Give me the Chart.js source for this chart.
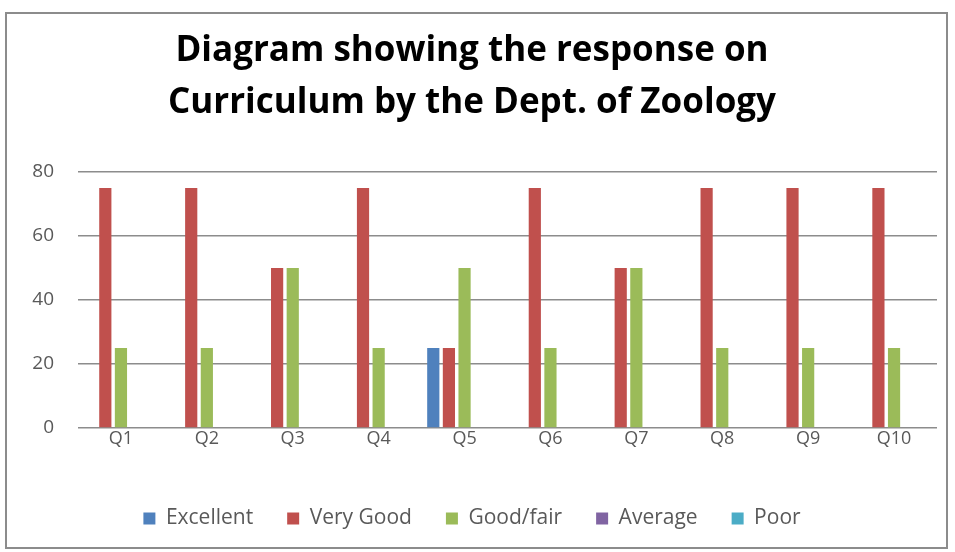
<!DOCTYPE html>
<html>
<head>
<meta charset="utf-8">
<script src="https://cdn.jsdelivr.net/npm/chart.js@4/dist/chart.umd.min.js"></script>
<style>
  body { margin: 0; background: #fff; }
  #frame {
    position: absolute; left: 5px; top: 12px;
    width: 939px; height: 533px;
    border: 2px solid #8c8c8c;
  }
</style>
</head>
<body>
<div id="frame"><canvas id="chart" width="939" height="533"></canvas></div>
<script>
/* =================================================
  Data
==================================================== */

const questions = ["Q1", "Q2", "Q3", "Q4", "Q5", "Q6", "Q7", "Q8", "Q9", "Q10"];
const excellent = [0, 0, 0, 0, 25, 0, 0, 0, 0, 0];
const veryGood  = [75, 75, 50, 75, 25, 75, 50, 75, 75, 75];
const goodFair  = [25, 25, 50, 25, 50, 25, 50, 25, 25, 25];
const average   = [0, 0, 0, 0, 0, 0, 0, 0, 0, 0];
const poor      = [0, 0, 0, 0, 0, 0, 0, 0, 0, 0];
const yTicks    = [0, 20, 40, 60, 80];

/* =================================================
  Chart
==================================================== */

const font = "'Open Sans', 'Noto Sans', sans-serif";
const ctx = document.getElementById('chart');

const makeSet = (label, data, color) => ({
  label: label,
  data: data,
  backgroundColor: color,
  borderWidth: 0,
  categoryPercentage: 0.91,
  barPercentage: 0.78
});

new Chart(ctx, {
  type: 'bar',
  data: {
    labels: questions,
    datasets: [
      makeSet('Excellent', excellent, '#4F81BD'),
      makeSet('Very Good', veryGood, '#C0504D'),
      makeSet('Good/fair', goodFair, '#9BBB59'),
      makeSet('Average', average, '#8064A2'),
      makeSet('Poor', poor, '#4BACC6')
    ]
  },
  options: {
    responsive: false,
    animation: false,
    layout: { padding: { left: 0, right: 9, top: 0, bottom: 8 } },
    scales: {
      x: {
        grid: { display: false },
        border: { display: false },
        ticks: { color: '#595959', font: { family: font, size: 18 }, padding: -8 },
        afterFit: scale => { scale.height = 46; }
      },
      y: {
        min: 0,
        max: 80,
        afterBuildTicks: scale => { scale.ticks = yTicks.map(v => ({ value: v })); },
        grid: { color: '#8c8c8c', lineWidth: 1.5, drawTicks: false },
        border: { display: false },
        ticks: { color: '#595959', font: { family: font, size: 19 }, padding: 24 },
        afterFit: scale => { scale.width = 71; }
      }
    },
    plugins: {
      title: {
        display: true,
        text: ['Diagram showing the response on', 'Curriculum by the Dept. of Zoology'],
        color: '#000',
        font: { family: font, size: 35, weight: 'bold', lineHeight: 1.486 },
        padding: { top: 11, bottom: 43 }
      },
      legend: {
        position: 'bottom',
        labels: {
          color: '#595959',
          boxWidth: 12,
          boxHeight: 12,
          padding: 34,
          font: { family: font, size: 21 }
        }
      },
      tooltip: { enabled: false }
    }
  }
});
</script>
</body>
</html>
